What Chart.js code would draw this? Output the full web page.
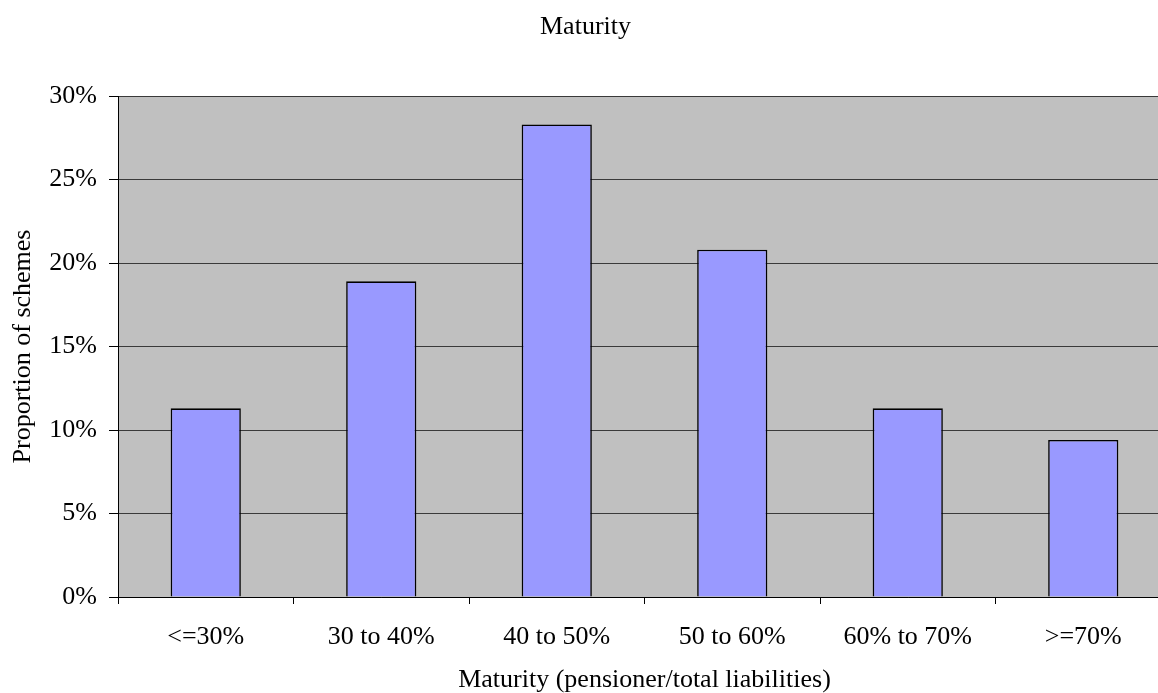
<!DOCTYPE html>
<html>
<head>
<meta charset="utf-8">
<script src="https://cdn.jsdelivr.net/npm/chart.js@4/dist/chart.umd.min.js"></script>
<style>
  html, body { margin: 0; padding: 0; background: #fff; overflow: hidden; }
  #wrap { width: 1180px; height: 693px; }
</style>
</head>
<body>
<div id="wrap"><canvas id="c" width="1180" height="693"></canvas></div>
<script>
// Share of schemes by maturity band (pensioner / total liabilities)
const categories = ['<=30%', '30 to 40%', '40 to 50%', '50 to 60%', '60% to 70%', '>=70%'];
const shareOfSchemes = [11.3, 18.9, 28.3, 20.8, 11.3, 9.4];
const yTicks = [0, 5, 10, 15, 20, 25, 30];

const FONT = 'Liberation Serif, "Times New Roman", Times, serif';

// Grey plot background behind the bars
const plotBackground = {
  id: 'plotBackground',
  beforeDraw(chart) {
    const { ctx, chartArea: a } = chart;
    ctx.save();
    ctx.fillStyle = '#c0c0c0';
    ctx.fillRect(a.left, a.top, a.right - a.left, a.bottom - a.top);
    ctx.restore();
  }
};

new Chart(document.getElementById('c'), {
  type: 'bar',
  data: {
    labels: categories,
    datasets: [{
      data: shareOfSchemes,
      backgroundColor: '#9999ff',
      borderColor: '#000000',
      borderWidth: 1.6,
      barPercentage: 0.4,
      categoryPercentage: 1.0
    }]
  },
  options: {
    responsive: false,
    animation: false,
    layout: { padding: { left: 0, right: 9, top: 0, bottom: 0 } },
    plugins: {
      legend: { display: false },
      tooltip: { enabled: false },
      title: {
        display: true,
        text: 'Maturity',
        color: '#000',
        font: { family: FONT, size: 26, weight: 'normal', lineHeight: 1.2 },
        padding: { top: 12, bottom: 52.8 }
      }
    },
    scales: {
      x: {
        offset: true,
        grid: {
          offset: true,
          drawOnChartArea: false,
          drawTicks: true,
          tickLength: 7,
          tickColor: '#000',
          color: '#000'
        },
        border: { display: true, color: '#000', width: 1 },
        ticks: {
          color: '#000',
          font: { family: FONT, size: 26, lineHeight: 1.2 },
          padding: 18,
          maxRotation: 0,
          autoSkip: false
        },
        title: {
          display: true,
          text: 'Maturity (pensioner/total liabilities)',
          color: '#000',
          font: { family: FONT, size: 26, lineHeight: 1.0 },
          padding: { top: 0, bottom: 0 }
        },
        afterFit(scale) { scale.height = 96; }
      },
      y: {
        min: 0,
        max: 30,
        afterBuildTicks(scale) { scale.ticks = yTicks.map(v => ({ value: v })); },
        grid: {
          color: '#3a3a3a',
          lineWidth: 1,
          drawTicks: true,
          tickLength: 9,
          tickColor: '#000'
        },
        border: { display: true, color: '#000', width: 1 },
        ticks: {
          color: '#000',
          font: { family: FONT, size: 26, lineHeight: 1.2 },
          padding: 12,
          callback: v => v + '%'
        },
        title: {
          display: true,
          text: 'Proportion of schemes',
          color: '#000',
          font: { family: FONT, size: 26, lineHeight: 1.2 },
          padding: { top: 8, bottom: 0 }
        },
        afterFit(scale) { scale.width = 118; }
      }
    }
  },
  plugins: [plotBackground]
});
</script>
</body>
</html>
